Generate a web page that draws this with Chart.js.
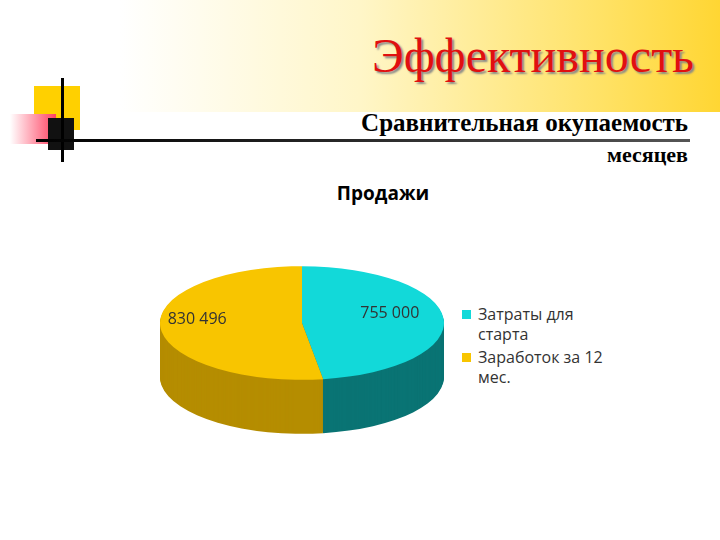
<!DOCTYPE html>
<html><head><meta charset="utf-8">
<script src="https://cdn.jsdelivr.net/npm/chart.js@4"></script>
<style>
body{margin:0;width:720px;height:540px;position:relative;overflow:hidden;background:#fff;font-family:"Liberation Serif",serif}
.band{position:absolute;left:120px;top:0;width:600px;height:112px;background:linear-gradient(90deg,#fff 0%,#fff6c8 40%,#ffe266 80%,#ffd633 100%)}
.ttl{position:absolute;right:26px;top:28px;font-size:48px;color:#e01010;text-shadow:2px 2px 2px #888}
.sub{position:absolute;right:32px;font-size:25px;color:#000;font-weight:bold}
.ct{position:absolute;left:283px;width:200px;top:180px;text-align:center;font:bold 19px "Open Sans",sans-serif}
.lg{position:absolute;left:462px;top:304px;font:16px "Open Sans",sans-serif;line-height:20px;color:#333}
.lg div{position:relative;padding-left:16px;margin-bottom:3px}
.lg span{position:absolute;left:0;top:6px;width:9px;height:9px}
canvas{position:absolute}
</style></head><body>
<div class="band"></div>
<div style="position:absolute;left:34px;top:86px;width:46px;height:44px;background:#ffd000"></div>
<div style="position:absolute;left:10px;top:114px;width:46px;height:30px;background:linear-gradient(90deg,#fff,#ff4060)"></div>
<div style="position:absolute;left:48px;top:118px;width:26px;height:32px;background:#111"></div>
<div style="position:absolute;left:61px;top:78px;width:3px;height:84px;background:#000"></div>
<div style="position:absolute;left:36px;top:139px;width:654px;height:3px;background:linear-gradient(90deg,#000,#555)"></div>
<div class="ttl">Эффективность</div>
<div class="sub" style="top:109px">Сравнительная окупаемость</div>
<div class="sub" style="top:142px;font-size:22px">месяцев</div>
<div class="ct">Продажи</div>
<div class="lg" id="lg"></div>
<canvas id="c" width="300" height="300" style="left:152px;top:173px;width:300px;height:300px"></canvas>
<script>
const categories = [["Затраты для", "старта"], ["Заработок за 12", "мес."]];
const values = [755000, 830496];
const valueLabels = ["755 000", "830 496"];
const colors = ["#12d9d9", "#f8c500"];
const sideColors = ["#0a7474", "#b58d00"];

document.getElementById("lg").innerHTML = categories.map((c, i) =>
  '<div><span style="background:' + colors[i] + '"></span>' + c.join("<br>") + "</div>").join("");

const k = 0.4, depth = 54;
const tilt = {
  id: "tilt",
  beforeDatasetsDraw(chart) {
    const ctx = chart.ctx, meta = chart.getDatasetMeta(0), a0 = meta.data[0];
    ctx.save();
    ctx.translate(a0.x, a0.y); ctx.scale(1, k); ctx.translate(-a0.x, -a0.y);
    for (let d = depth; d > 0; d--) {
      ctx.save(); ctx.translate(0, d / k);
      meta.data.forEach((arc, i) => {
        const o = arc.options, bg = o.backgroundColor, bw = o.borderWidth;
        o.backgroundColor = sideColors[i]; o.borderWidth = 0;
        arc.draw(ctx);
        o.backgroundColor = bg; o.borderWidth = bw;
      });
      ctx.restore();
    }
  },
  afterDatasetsDraw(chart) {
    const ctx = chart.ctx;
    ctx.restore();
    const meta = chart.getDatasetMeta(0);
    ctx.font = '16px "Open Sans", sans-serif'; ctx.fillStyle = "#333";
    ctx.textAlign = "center"; ctx.textBaseline = "middle";
    meta.data.forEach((arc, i) => {
      const m = (arc.startAngle + arc.endAngle) / 2, r = arc.outerRadius * (i ? 0.74 : 0.62);
      ctx.fillText(valueLabels[i], arc.x + Math.cos(m) * r, arc.y + Math.sin(m) * r * k - 7);
    });
  }
};

new Chart(document.getElementById("c"), {
  type: "pie",
  data: { labels: categories.map(c => c.join(" ")), datasets: [{ data: values, backgroundColor: colors, borderWidth: 0 }] },
  options: {
    responsive: false, animation: false,
    layout: { padding: { left: 8, right: 8, top: 8, bottom: 8 } },
    plugins: { legend: { display: false }, tooltip: { enabled: false } }
  },
  plugins: [tilt]
});
</script>
</body></html>
